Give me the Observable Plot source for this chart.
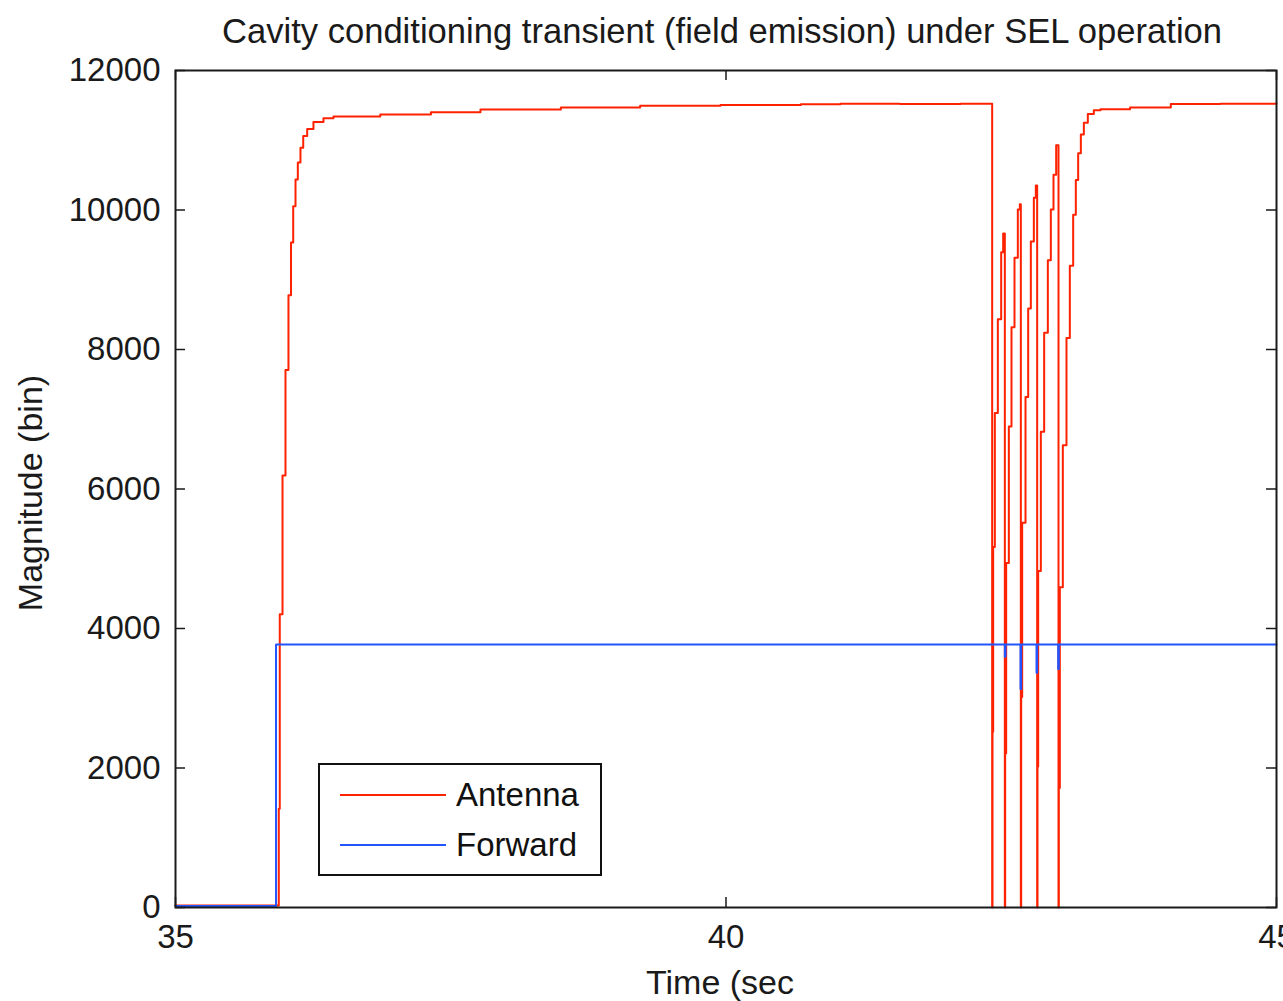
<!DOCTYPE html>
<html><head><meta charset="utf-8">
<script src="https://cdn.jsdelivr.net/npm/d3@7"></script>
<script src="https://cdn.jsdelivr.net/npm/@observablehq/plot@0.6"></script>
<style>
body{margin:0;background:#fff;}
#wrap{position:relative;width:1283px;height:1001px;overflow:hidden;font-family:"Liberation Sans",Arial,sans-serif;}
#legend{position:absolute;left:318px;top:763px;width:280px;height:109px;border:2px solid #111;background:#fff;}
.row{position:absolute;left:0;right:0;height:40px;}
.row .ln{position:absolute;left:20px;width:106px;top:19px;height:2px;}
.row .tx{position:absolute;left:136px;top:0;line-height:40px;font-size:33px;color:#111;}
</style></head>
<body>
<div id="wrap">
<div id="chart"></div>
<div id="legend">
 <div class="row" style="top:10px"><div class="ln" style="background:#ff2200"></div><div class="tx">Antenna</div></div>
 <div class="row" style="top:60px"><div class="ln" style="background:#2255ff"></div><div class="tx">Forward</div></div>
</div>
</div>
<script>
const title = "Cavity conditioning transient (field emission) under SEL operation";
const xLabel = "Time (sec";
const yLabel = "Magnitude (bin)";
const xTicks = [35, 40, 45];
const yTicks = [0, 2000, 4000, 6000, 8000, 10000, 12000];
const seriesNames = ["Antenna", "Forward"];
const seriesColors = ["#ff2200", "#2255ff"];

const antennaT = [35.0, 35.938, 35.947, 35.972, 35.999, 36.026, 36.049, 36.069, 36.090, 36.111, 36.135, 36.160, 36.196, 36.253, 36.344, 36.435,
  36.86, 37.32, 37.77, 38.50, 39.22, 39.95, 40.68, 41.04, 41.58, 42.13,
  42.4175, 42.4206, 42.4266, 42.4417, 42.4690, 42.4993, 42.5174,
  42.5326, 42.5356, 42.5447, 42.5689, 42.5931, 42.6204, 42.6506, 42.6688,
  42.6779, 42.6809, 42.6900, 42.7203, 42.7445, 42.7687, 42.7960, 42.8141,
  42.8262, 42.8293, 42.8353, 42.8595, 42.8898, 42.9231, 42.9504, 42.9746, 42.9988,
  43.0200, 43.0230, 43.0321, 43.0593, 43.0926, 43.1229, 43.1532, 43.1774, 43.1986, 43.2229, 43.2501, 43.2864, 43.3409, 43.4015,
  43.67, 44.04, 44.49, 45.0];
const antennaV = [30, 1414, 4205, 6193, 7706, 8777, 9534, 10053, 10436, 10680, 10894, 11062, 11162, 11261, 11315, 11340,
  11370, 11400, 11440, 11470, 11495, 11505, 11515, 11525, 11520, 11525,
  0, 2519, 5169, 7089, 8433, 9393, 9662,
  0, 2212, 4939, 6897, 8318, 9316, 10008, 10084,
  0, 3018, 5515, 7320, 8587, 9547, 10177, 10353,
  0, 2020, 4823, 6820, 8241, 9278, 10008, 10507, 10929,
  0, 1713, 4593, 6628, 8164, 9201, 9931, 10430, 10814, 11083, 11252, 11375, 11429, 11445,
  11470, 11520, 11525, 11530];

const forwardT = [35.0, 35.913, 42.5326, 42.5386, 42.6749, 42.6809, 42.8202, 42.8262, 43.0170, 43.0230, 45.0];
const forwardV = [20, 3770, 3594, 3770, 3134, 3770, 3364, 3770, 3418, 3770, 3770];

const antenna = antennaT.map((t, i) => ({t, v: antennaV[i]}));
const forward = forwardT.map((t, i) => ({t, v: forwardV[i]}));

const W = 1283, H = 1001, mL = 175, mR = 7, mT = 70, mB = 94;
const pw = W - mL - mR, ph = H - mT - mB, tick = 10;
const ink = "#1a1a1a";

const chart = Plot.plot({
  width: W, height: H,
  marginLeft: mL, marginRight: mR, marginTop: mT, marginBottom: mB,
  style: {fontFamily: "'Liberation Sans', Arial, sans-serif", fontSize: "33px", color: ink, background: "white", overflow: "visible"},
  x: {domain: [35, 45]},
  y: {domain: [0, 12000]},
  marks: [
    Plot.line(antenna, {x: "t", y: "v", stroke: seriesColors[0], strokeWidth: 2, curve: "step-after"}),
    Plot.line(forward, {x: "t", y: "v", stroke: seriesColors[1], strokeWidth: 2, curve: "step-after"}),
    Plot.frame({stroke: ink, strokeWidth: 2}),
    Plot.ruleX(xTicks, {x: d => d, insetTop: ph - tick, stroke: ink, strokeWidth: 1.5}),
    Plot.ruleX(xTicks, {x: d => d, insetBottom: ph - tick, stroke: ink, strokeWidth: 1.5}),
    Plot.ruleY(yTicks, {y: d => d, insetRight: pw - tick, stroke: ink, strokeWidth: 1.5}),
    Plot.ruleY(yTicks, {y: d => d, insetLeft: pw - tick, stroke: ink, strokeWidth: 1.5}),
    Plot.axisX(xTicks, {tickSize: 0, tickPadding: 17, label: null, tickFormat: d => String(d), fontSize: 33}),
    Plot.axisY(yTicks, {tickSize: 0, tickPadding: 15, label: null, tickFormat: d => String(d), fontSize: 33}),
    Plot.text([title], {frameAnchor: "top", lineAnchor: "middle", dy: -39, dx: -4, fontSize: 34.6, fill: ink}),
    Plot.text([xLabel], {frameAnchor: "bottom", lineAnchor: "middle", dy: 76, dx: -6, fontSize: 34, fill: ink}),
    Plot.text([yLabel], {frameAnchor: "left", textAnchor: "middle", lineAnchor: "middle", dx: -144, dy: 4, rotate: -90, fontSize: 34, fill: ink})
  ]
});
document.getElementById("chart").appendChild(chart);
</script>
</body></html>
